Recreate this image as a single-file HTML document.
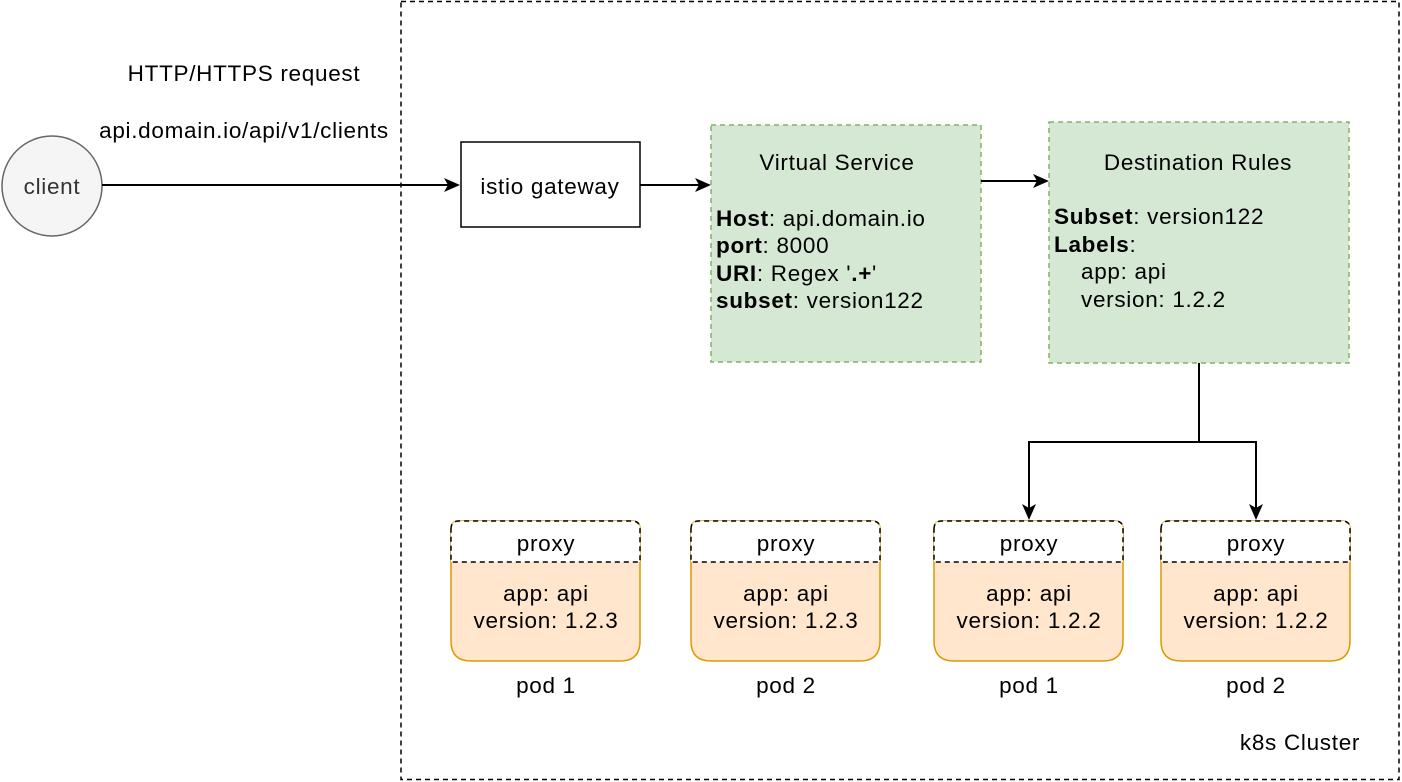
<!DOCTYPE html>
<html><head><meta charset="utf-8"><style>
html,body{margin:0;padding:0;background:#fff;width:1402px;height:782px;overflow:hidden}
text{font-family:"Liberation Sans",Helvetica,Arial,sans-serif;font-size:22.5px;letter-spacing:0.7px;fill:#000}
</style></head><body>
<svg width="1402" height="782" viewBox="0 0 1402 782" xmlns="http://www.w3.org/2000/svg">
<rect x="401" y="1.5" width="998" height="778" fill="none" stroke="#000" stroke-width="1.5" stroke-dasharray="5,4"/>
<text x="1300" y="750" text-anchor="middle">k8s Cluster</text>

<text x="244" y="81" text-anchor="middle">HTTP/HTTPS request</text>
<text x="244" y="138" text-anchor="middle">api.domain.io/api/v1/clients</text>

<circle cx="52" cy="186" r="50" fill="#f5f5f5" stroke="#666" stroke-width="1.5"/>
<text x="52" y="194" text-anchor="middle" style="fill:#333">client</text>
<line x1="102" y1="185" x2="448" y2="185" stroke="#000" stroke-width="2"/>
<polygon points="460,185 444,178 448,185 444,192" fill="#000"/>

<rect x="461" y="142" width="179" height="85" fill="#fff" stroke="#000" stroke-width="1.5"/>
<text x="550" y="194" text-anchor="middle">istio gateway</text>
<line x1="640" y1="185" x2="700" y2="185" stroke="#000" stroke-width="2"/>
<polygon points="711,185 695,178 699,185 695,192" fill="#000"/>

<rect x="711" y="125" width="270" height="237" fill="#d5e8d4" stroke="#82b366" stroke-width="1.5" stroke-dasharray="5,4"/>
<text x="837" y="170" text-anchor="middle">Virtual Service</text>
<text x="716" y="226"><tspan font-weight="bold">Host</tspan>: api.domain.io</text>
<text x="716" y="253"><tspan font-weight="bold">port</tspan>: 8000</text>
<text x="716" y="281"><tspan font-weight="bold">URI</tspan>: Regex '<tspan font-weight="bold">.+</tspan>'</text>
<text x="716" y="308"><tspan font-weight="bold">subset</tspan>: version122</text>
<line x1="981" y1="181" x2="1038" y2="181" stroke="#000" stroke-width="2"/>
<polygon points="1049,181 1033,174 1037,181 1033,188" fill="#000"/>

<rect x="1049" y="122" width="300" height="241" fill="#d5e8d4" stroke="#82b366" stroke-width="1.5" stroke-dasharray="5,4"/>
<text x="1198" y="170" text-anchor="middle">Destination Rules</text>
<text x="1054" y="224"><tspan font-weight="bold">Subset</tspan>: version122</text>
<text x="1054" y="252"><tspan font-weight="bold">Labels</tspan>:</text>
<text x="1081" y="279">app: api</text>
<text x="1081" y="307">version: 1.2.2</text>

<path d="M1199,363 V442 H1029 V508" fill="none" stroke="#000" stroke-width="2"/>
<path d="M1199,442 H1256 V508" fill="none" stroke="#000" stroke-width="2"/>
<polygon points="1029,520 1022,504 1029,508 1036,504" fill="#000"/>
<polygon points="1256,520 1249,504 1256,508 1263,504" fill="#000"/>

<g transform="translate(451,0)">
<path d="M0,529 Q0,521 8,521 H181 Q189,521 189,529 V641 Q189,661 169,661 H20 Q0,661 0,641 Z" fill="#ffe6cc" stroke="#d79b00" stroke-width="1.5"/>
<path d="M0,529 Q0,521 8,521 H181 Q189,521 189,529 V562 H0 Z" fill="#fff" stroke="#000" stroke-width="1.5" stroke-dasharray="5,4"/>
<text x="95" y="551" text-anchor="middle">proxy</text>
<text x="95" y="601" text-anchor="middle">app: api</text>
<text x="95" y="628" text-anchor="middle">version: 1.2.3</text>
<text x="95" y="693" text-anchor="middle">pod 1</text>
</g>
<g transform="translate(691,0)">
<path d="M0,529 Q0,521 8,521 H181 Q189,521 189,529 V641 Q189,661 169,661 H20 Q0,661 0,641 Z" fill="#ffe6cc" stroke="#d79b00" stroke-width="1.5"/>
<path d="M0,529 Q0,521 8,521 H181 Q189,521 189,529 V562 H0 Z" fill="#fff" stroke="#000" stroke-width="1.5" stroke-dasharray="5,4"/>
<text x="95" y="551" text-anchor="middle">proxy</text>
<text x="95" y="601" text-anchor="middle">app: api</text>
<text x="95" y="628" text-anchor="middle">version: 1.2.3</text>
<text x="95" y="693" text-anchor="middle">pod 2</text>
</g>
<g transform="translate(934,0)">
<path d="M0,529 Q0,521 8,521 H181 Q189,521 189,529 V641 Q189,661 169,661 H20 Q0,661 0,641 Z" fill="#ffe6cc" stroke="#d79b00" stroke-width="1.5"/>
<path d="M0,529 Q0,521 8,521 H181 Q189,521 189,529 V562 H0 Z" fill="#fff" stroke="#000" stroke-width="1.5" stroke-dasharray="5,4"/>
<text x="95" y="551" text-anchor="middle">proxy</text>
<text x="95" y="601" text-anchor="middle">app: api</text>
<text x="95" y="628" text-anchor="middle">version: 1.2.2</text>
<text x="95" y="693" text-anchor="middle">pod 1</text>
</g>
<g transform="translate(1161,0)">
<path d="M0,529 Q0,521 8,521 H181 Q189,521 189,529 V641 Q189,661 169,661 H20 Q0,661 0,641 Z" fill="#ffe6cc" stroke="#d79b00" stroke-width="1.5"/>
<path d="M0,529 Q0,521 8,521 H181 Q189,521 189,529 V562 H0 Z" fill="#fff" stroke="#000" stroke-width="1.5" stroke-dasharray="5,4"/>
<text x="95" y="551" text-anchor="middle">proxy</text>
<text x="95" y="601" text-anchor="middle">app: api</text>
<text x="95" y="628" text-anchor="middle">version: 1.2.2</text>
<text x="95" y="693" text-anchor="middle">pod 2</text>
</g>
</svg>
</body></html>
